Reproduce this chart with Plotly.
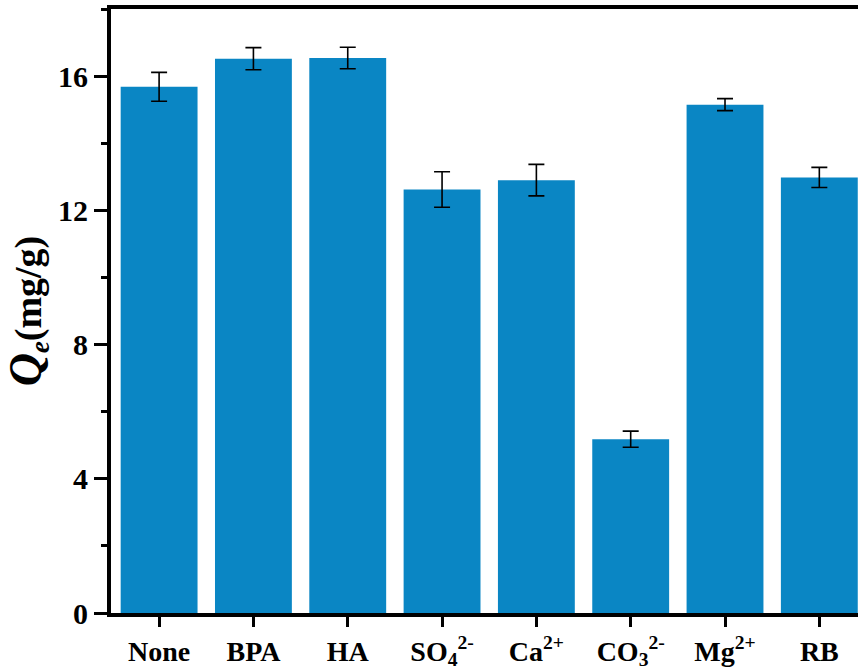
import plotly.graph_objects as go

categories = ["None", "BPA", "HA", "SO<sub>4</sub><sup>2-</sup>", "Ca<sup>2+</sup>",
              "CO<sub>3</sub><sup>2-</sup>", "Mg<sup>2+</sup>", "RB"]
qe_values = [15.68, 16.52, 16.54, 12.62, 12.90, 5.18, 15.15, 12.98]
qe_errors = [0.43, 0.33, 0.32, 0.53, 0.47, 0.24, 0.18, 0.30]
y_ticks = [0, 4, 8, 12, 16]

FONT = "Liberation Serif, Times New Roman, serif"
BAR_COLOR = "#0A86C4"

fig = go.Figure()
fig.add_trace(go.Bar(
    x=list(range(len(categories))),
    y=qe_values,
    width=0.815,
    marker=dict(color=BAR_COLOR, line=dict(width=0)),
    error_y=dict(type="data", array=qe_errors, visible=True,
                 color="black", thickness=1.6, width=8),
))

fig.update_layout(
    width=858, height=670,
    margin=dict(l=111, r=0, t=9, b=53),
    paper_bgcolor="white", plot_bgcolor="white",
    showlegend=False,
    font=dict(family=FONT, color="black"),
    xaxis=dict(
        range=[-0.51, 7.41],
        tickmode="array",
        tickvals=list(range(len(categories))),
        ticktext=["<b>%s</b>" % c for c in categories],
        tickfont=dict(size=28, family=FONT),
        ticks="outside", ticklen=10, tickwidth=3, tickcolor="black",
        showline=True, linewidth=4, linecolor="black", mirror=True,
        showgrid=False, zeroline=False,
    ),
    yaxis=dict(
        range=[0, 18],
        tickmode="array",
        tickvals=y_ticks,
        ticktext=["<b>%d</b>" % v for v in y_ticks],
        tickfont=dict(size=30, family=FONT),
        ticks="outside", ticklen=13, tickwidth=3, tickcolor="black",
        minor=dict(dtick=2, tick0=0, ticks="outside", ticklen=6, tickwidth=3, tickcolor="black"),
        showline=True, linewidth=4, linecolor="black", mirror=False,
        showgrid=False, zeroline=False,
        title=dict(
            text='<b><i><span style="font-size:46px">Q</span><sub>e</sub></i>(mg/g)</b>',
            font=dict(size=38, family=FONT),
            standoff=10,
        ),
    ),
)

fig.write_html("out.html")
